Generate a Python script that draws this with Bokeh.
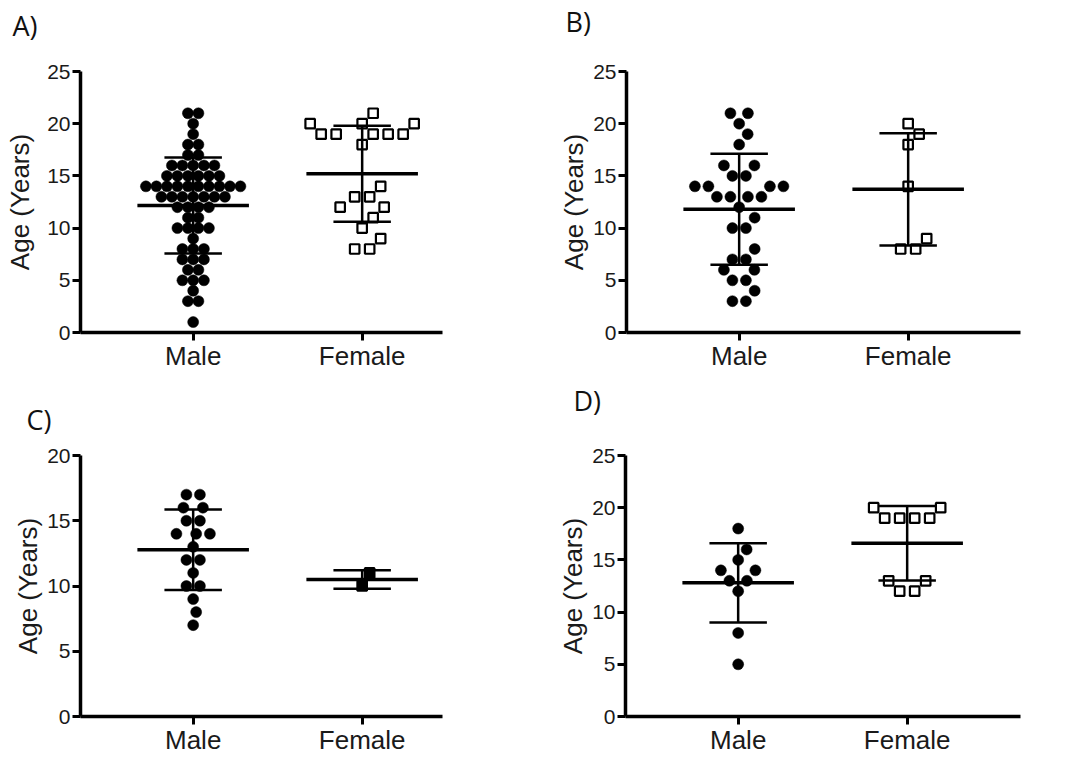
import numpy as np
from bokeh.plotting import figure
from bokeh.layouts import column, row
from bokeh.models import Range1d, FixedTicker, LinearAxis, Title
from bokeh.embed import file_html
from bokeh.resources import INLINE

# ---- data: age in years of each subject, by sex ----
groups = ["Male", "Female"]

a_male = [21, 21, 20, 19, 18, 18, 17, 17,
          16, 16, 16, 16, 16,
          15, 15, 15, 15, 15, 15,
          14, 14, 14, 14, 14, 14, 14, 14, 14, 14,
          13, 13, 13, 13, 13, 13, 13,
          12, 12, 12, 12, 11, 11,
          10, 10, 10, 10, 9, 8, 8, 8, 7, 7, 7,
          6, 6, 5, 5, 5, 4, 3, 3, 1]
a_female = [21, 20, 20, 20, 19, 19, 19, 19, 19, 18,
            14, 13, 13, 12, 12, 11, 10, 9, 8, 8]

b_male = [21, 21, 20, 19, 18, 16, 16, 15, 15,
          14, 14, 14, 14, 13, 13, 13, 13, 12, 11, 10, 10,
          8, 7, 7, 6, 6, 5, 5, 4, 3, 3]
b_female = [20, 19, 18, 14, 9, 8, 8]

c_male = [17, 17, 16, 16, 15, 15, 14, 14, 14, 13,
          12, 12, 11, 10, 10, 9, 8, 7]
c_female = [11, 10]

d_male = [18, 16, 15, 14, 14, 13, 13, 12, 8, 5]
d_female = [20, 20, 19, 19, 19, 19, 13, 13, 12, 12]

y_ticks_25 = [0, 5, 10, 15, 20, 25]
y_ticks_20 = [0, 5, 10, 15, 20]

TICK_FONT = "Liberation Sans"
LETTER_FONT = "Open Sans"
PX_PER_GROUP = 169.0


def swarm(vals, px_x, px_y, min_dist):
    """Column-scatter offsets: rows of equal value spread symmetrically,
    pushed outwards where they would overlap points already placed."""
    vals = np.asarray(vals, dtype=float)
    offs = np.zeros(len(vals))
    placed = []
    for v in sorted(set(vals.tolist())):
        idx = [i for i in range(len(vals)) if vals[i] == v]
        y = v * px_y

        def free(x):
            return all((px - x) ** 2 + (py - y) ** 2 >= min_dist ** 2 for px, py in placed)

        k = 0
        if len(idx) % 2 == 1:
            c = 0.0
            while not (free(c) or free(-c)):
                c += 0.5
            x = c if free(c) else -c
            offs[idx[0]] = x
            placed.append((x, y))
            k = 1
        while k < len(idx):
            c = min_dist / 2.0
            while not (free(c) and free(-c)):
                c += 0.5
            offs[idx[k]] = -c
            offs[idx[k + 1]] = c
            placed.append((-c, y))
            placed.append((c, y))
            k += 2
    return offs / px_x


def panel(letter, male, female, y_max, y_ticks, width, height,
          left, right, top, bottom, ylabel_standoff, letter_x, letter_gap,
          male_spacing, female_fill):
    frame_w = width - left - right
    frame_h = height - top - bottom
    x0 = 1.0 - 2.0 / 3.0
    x1 = x0 + frame_w / PX_PER_GROUP
    p = figure(width=width, height=height, output_backend="svg",
               toolbar_location=None, title=None,
               x_range=Range1d(x0, x1), y_range=Range1d(0, y_max),
               min_border_left=left, min_border_right=right,
               min_border_top=top, min_border_bottom=bottom)
    p.xgrid.visible = False
    p.ygrid.visible = False
    p.outline_line_color = None
    p.background_fill_color = "white"
    p.border_fill_color = "white"

    # invisible axis above the frame: a spacer below the panel letter
    gap = LinearAxis(ticker=FixedTicker(ticks=[1]), axis_line_color=None,
                     major_tick_in=0, major_tick_out=letter_gap,
                     major_tick_line_color=None, minor_tick_line_color=None,
                     major_label_standoff=0, major_label_text_font_size="1px",
                     major_label_text_alpha=0)
    p.add_layout(gap, "above")

    # panel letter
    p.add_layout(Title(text=letter, align="left", offset=letter_x - left,
                       standoff=0, text_font=LETTER_FONT,
                       text_font_size="27px", text_font_style="normal",
                       text_color="#111111"), "above")

    px_y = frame_h / y_max
    xm = 1 + swarm(male, PX_PER_GROUP, px_y, male_spacing)
    xf = 2 + swarm(female, PX_PER_GROUP, px_y, 15.0)

    p.scatter(xm, male, marker="circle", size=11, fill_color="black",
              line_color="black", line_width=0.5)
    p.scatter(xf, female, marker="square", size=9.5, fill_color=female_fill,
              line_color="black", line_width=2.2)

    # mean and standard deviation of each group
    for pos, vals in ((1, male), (2, female)):
        m = float(np.mean(vals))
        sd = float(np.std(vals, ddof=1))
        p.segment(x0=[pos - 0.33], y0=[m], x1=[pos + 0.33], y1=[m],
                  line_color="black", line_width=3.5)
        p.segment(x0=[pos], y0=[m - sd], x1=[pos], y1=[m + sd],
                  line_color="black", line_width=2.5)
        p.segment(x0=[pos - 0.17, pos - 0.17], y0=[m - sd, m + sd],
                  x1=[pos + 0.17, pos + 0.17], y1=[m - sd, m + sd],
                  line_color="black", line_width=2.5)

    for ax in (p.below[0], p.left[0]):
        ax.axis_line_width = 3.5
        ax.axis_line_color = "black"
        ax.major_tick_line_width = 3
        ax.major_tick_line_color = "black"
        ax.major_tick_in = 0
        ax.major_tick_out = 8
        ax.minor_tick_line_color = None
        ax.major_label_text_font = TICK_FONT
        ax.major_label_text_color = "#1a1a1a"

    xax = p.below[0]
    xax.ticker = FixedTicker(ticks=[1, 2])
    xax.major_label_overrides = {1: groups[0], 2: groups[1]}
    xax.major_label_text_font_size = "26px"
    xax.major_label_standoff = 0

    yax = p.left[0]
    yax.ticker = FixedTicker(ticks=y_ticks)
    yax.major_label_text_font_size = "21px"
    yax.major_label_standoff = 2
    yax.axis_label = "Age (Years)"
    yax.axis_label_text_font = TICK_FONT
    yax.axis_label_text_font_size = "26px"
    yax.axis_label_text_font_style = "normal"
    yax.axis_label_text_color = "#1a1a1a"
    yax.axis_label_standoff = ylabel_standoff
    return p


pA = panel("A)", a_male, a_female, 25, y_ticks_25, 540, 378,
           80, 98, 66, 46, 9, 12, 28, 10.5, "white")
pB = panel("B)", b_male, b_female, 25, y_ticks_25, 533, 378,
           86, 53, 70, 43, 1, 25, 32, 13.5, "white")
pC = panel("C)", c_male, c_female, 20, y_ticks_20, 540, 379,
           80, 98, 77, 37, 1, 26, 18, 13.5, "black")
pD = panel("D)", d_male, d_female, 25, y_ticks_25, 533, 379,
           85, 53, 75, 39, 1, 33, 37, 13.5, "white")

layout = column(row(pA, pB), row(pC, pD))

open("out.html", "w").write(file_html(layout, INLINE))
